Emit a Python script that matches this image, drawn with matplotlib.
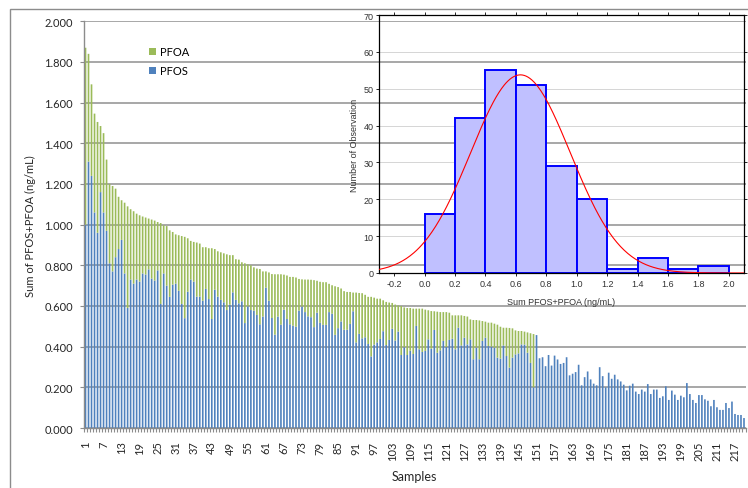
import numpy as np
import matplotlib
matplotlib.use("Agg")
import matplotlib.pyplot as plt
from matplotlib.patches import Rectangle
from matplotlib.ticker import FormatStrFormatter

# ---- data: main stacked bars ----
# total PFOS+PFOA for samples 1..150 (samples after that have PFOS only)
total_top = [
    1.87, 1.84, 1.69, 1.546, 1.505, 1.485, 1.45, 1.32, 1.20, 1.19, 1.177, 1.137, 1.12, 1.108, 1.09,
    1.076, 1.066, 1.054, 1.046, 1.04, 1.035, 1.03, 1.025, 1.02, 1.013, 1.008, 0.997, 0.993, 0.972,
    0.964, 0.952, 0.948, 0.944, 0.94, 0.933, 0.92, 0.915,
    0.912, 0.907, 0.889, 0.889, 0.884, 0.884, 0.88, 0.869, 0.864, 0.859, 0.854, 0.85, 0.85, 0.83,
    0.828, 0.815, 0.81, 0.805, 0.80, 0.79, 0.784, 0.782, 0.77, 0.77, 0.765, 0.757, 0.756, 0.756,
    0.756, 0.754, 0.75, 0.743, 0.743, 0.74, 0.733, 0.731,
    0.73, 0.73, 0.729, 0.727, 0.724, 0.719, 0.717, 0.717, 0.709, 0.702, 0.697, 0.693, 0.686, 0.673,
    0.669, 0.669, 0.666, 0.666, 0.664, 0.663, 0.655, 0.645, 0.645, 0.641, 0.636, 0.636, 0.628, 0.62,
    0.617, 0.615, 0.607, 0.603, 0.60, 0.593, 0.59, 0.59, 0.587,
    0.587, 0.587, 0.587, 0.582, 0.579, 0.575, 0.574, 0.572, 0.57, 0.57, 0.57, 0.567, 0.554, 0.554,
    0.554, 0.554, 0.551, 0.548, 0.534, 0.531, 0.531, 0.529, 0.526, 0.523, 0.518, 0.518, 0.513, 0.508,
    0.498, 0.493, 0.493, 0.492, 0.49, 0.48, 0.477, 0.477,
    0.474, 0.47, 0.466, 0.462,
]

# PFOS for all samples 1..220
pfos = [
    1.00, 1.31, 1.24, 1.06, 0.96, 1.16, 1.06, 0.97, 0.81, 0.77, 0.84, 0.88, 0.925, 0.76, 0.59, 0.73,
    0.71, 0.73, 0.72, 0.76, 0.755, 0.78, 0.735, 0.725, 0.775, 0.61, 0.76, 0.70, 0.645, 0.705, 0.71,
    0.675, 0.61, 0.54, 0.67, 0.73, 0.72,
    0.646, 0.646, 0.626, 0.684, 0.634, 0.536, 0.68, 0.646, 0.63, 0.618, 0.58, 0.607, 0.667, 0.63,
    0.613, 0.623, 0.516, 0.598, 0.58, 0.577, 0.556, 0.51, 0.548, 0.69, 0.626, 0.541, 0.459, 0.548,
    0.508, 0.582, 0.536, 0.51, 0.503, 0.498, 0.577, 0.597,
    0.57, 0.549, 0.545, 0.496, 0.567, 0.517, 0.507, 0.507, 0.57, 0.562, 0.458, 0.491, 0.524, 0.483,
    0.483, 0.512, 0.574, 0.421, 0.463, 0.441, 0.446, 0.413, 0.352, 0.41, 0.421, 0.438, 0.476, 0.408,
    0.433, 0.488, 0.43, 0.474, 0.359, 0.397, 0.359, 0.38, 0.364,
    0.502, 0.387, 0.374, 0.379, 0.436, 0.39, 0.482, 0.37, 0.382, 0.428, 0.398, 0.433, 0.439, 0.387,
    0.493, 0.406, 0.444, 0.411, 0.436, 0.338, 0.395, 0.338, 0.428, 0.444, 0.403, 0.40, 0.395, 0.346,
    0.341, 0.406, 0.354, 0.297, 0.346, 0.362, 0.367, 0.411,
    0.41, 0.37, 0.32, 0.20,
    0.457,
    0.343, 0.348, 0.304, 0.359, 0.307, 0.356, 0.337, 0.315, 0.32, 0.348, 0.259, 0.267, 0.275, 0.311,
    0.21, 0.25, 0.278, 0.239, 0.218, 0.21, 0.299, 0.255, 0.20, 0.272, 0.242, 0.262, 0.239, 0.229,
    0.213, 0.185, 0.208, 0.218,
    0.179, 0.167, 0.189, 0.179, 0.216, 0.167, 0.189, 0.189, 0.148, 0.156, 0.205, 0.138, 0.184, 0.164,
    0.138, 0.159, 0.151, 0.221, 0.167, 0.138, 0.123, 0.162, 0.162, 0.141, 0.134, 0.107, 0.138, 0.102,
    0.089, 0.089, 0.123, 0.098, 0.13, 0.069, 0.064, 0.064, 0.049,
]

# ---- data: inset histogram ----
hist_edges = [0.0, 0.2, 0.4, 0.6, 0.8, 1.0, 1.2, 1.4, 1.6, 1.8, 2.0]
hist_counts = [16, 42, 55, 51, 29, 20, 1, 4, 1, 2]
fit_mean = 0.63
fit_sd = 0.328
inset_xticks = [-0.2, 0.0, 0.2, 0.4, 0.6, 0.8, 1.0, 1.2, 1.4, 1.6, 1.8, 2.0]

n = len(pfos)
samples = np.arange(1, n + 1)
total = list(total_top) + list(pfos[len(total_top):])
pfoa = [max(t - p, 0.0) for t, p in zip(total, pfos)]

W, H = 748, 489
fig = plt.figure(figsize=(W / 100, H / 100), dpi=100)

# outer chart border (only left/top visible)
fig.patches.append(Rectangle((10 / W, -0.5), 2.0, 1.5 - 10 / H, transform=fig.transFigure,
                             fill=False, edgecolor="#8C8C8C", lw=1.0))

main_font = "Lato"
grey = "#8C8C8C"
ax = fig.add_axes([84 / W, 1 - 429 / H, (745.5 - 84) / W, (429 - 22.3) / H])
b_pfos = ax.bar(samples, pfos, width=0.55, color="#4F81BD", linewidth=0, zorder=2)
b_pfoa = ax.bar(samples, pfoa, bottom=pfos, width=0.55, color="#9BBB59", linewidth=0, zorder=2)
for p in list(b_pfos) + list(b_pfoa):
    p.set_snap(False)
ax.set_xlim(0.5, n + 0.5)
ax.set_ylim(0, 2.0)
ax.set_yticks(np.round(np.arange(0, 2.001, 0.2), 1))
ax.yaxis.set_major_formatter(FormatStrFormatter("%.3f"))
ax.grid(axis="y", color="#A0A0A0", lw=1.3, zorder=1)
ax.set_axisbelow(True)

xt = samples[::6]
ax.set_xticks(xt)
ax.set_xticklabels([str(v) for v in xt], rotation=90, fontsize=8, family=main_font, color="#262626")
ax.set_xticks(np.arange(0.5, n + 1, 1), minor=True)
ax.tick_params(axis="x", which="major", length=0, pad=9)
ax.tick_params(axis="x", which="minor", length=3, color=grey, width=0.8)
ax.tick_params(axis="y", length=3, color=grey, pad=5, labelsize=8, labelcolor="#262626")
for lab in ax.get_yticklabels():
    lab.set_family(main_font)
for s in ["top", "right"]:
    ax.spines[s].set_visible(False)
for s in ["left", "bottom"]:
    ax.spines[s].set_color(grey)
    ax.spines[s].set_linewidth(1.0)
ax.set_ylabel("Sum of PFOS+PFOA (ng/mL)", fontsize=8, family=main_font, color="#262626", labelpad=6)
ax.set_xlabel("Samples", fontsize=9, family=main_font, color="#262626", labelpad=7)

leg = ax.legend([b_pfoa, b_pfos], ["PFOA", "PFOS"], loc="upper left",
                bbox_to_anchor=((149 - 84) / 661.5, 1 - (47 - 22.3) / 406.7),
                frameon=False, prop={"family": main_font, "size": 8},
                handlelength=0.6, handleheight=0.6, handletextpad=0.4,
                labelspacing=0.75, borderpad=0, borderaxespad=0)

# ---- inset histogram ----
inset_font = "Liberation Sans"
ax2 = fig.add_axes([379 / W, 1 - 274 / H, (744 - 379) / W, (274 - 16) / H])
ax2.set_facecolor("none")
ax2.bar(hist_edges[:-1], hist_counts, width=np.diff(hist_edges), align="edge",
        color="#C0C0FF", edgecolor="#0000FF", linewidth=1.4, zorder=2)
bw = hist_edges[1] - hist_edges[0]
xs = np.linspace(-0.3, 2.1, 400)
ys = sum(hist_counts) * bw * np.exp(-0.5 * ((xs - fit_mean) / fit_sd) ** 2) / (fit_sd * np.sqrt(2 * np.pi))
ax2.plot(xs, ys, color="#FF0000", lw=0.8, zorder=3)
ax2.set_xlim(-0.3, 2.1)
ax2.set_ylim(0, 70)
ax2.set_xticks(inset_xticks)
ax2.set_xticklabels([f"{v:.1f}" for v in inset_xticks])
ax2.set_yticks(range(0, 71, 10))
ax2.grid(axis="y", color="#CFCFCF", lw=0.6, zorder=0)
ax2.set_axisbelow(True)
ax2.tick_params(axis="both", labelsize=6.5, length=2, width=0.6, colors="#000000",
                labelcolor="#333333", pad=2)
ax2.tick_params(top=True, right=True, direction="out")
for lab in ax2.get_xticklabels() + ax2.get_yticklabels():
    lab.set_family(inset_font)
for s in ax2.spines.values():
    s.set_color("#000000")
    s.set_linewidth(0.9)
ax2.set_xlabel("Sum PFOS+PFOA (ng/mL)", fontsize=6.5, family=inset_font, color="#333333", labelpad=7)
ax2.set_ylabel("Number of Observation", fontsize=6.5, family=inset_font, color="#333333", labelpad=3)

fig.savefig("out.png", dpi=100)
